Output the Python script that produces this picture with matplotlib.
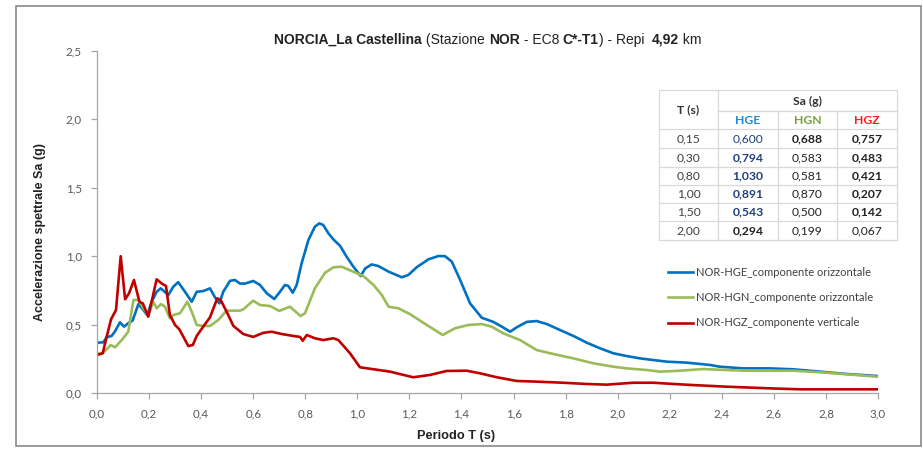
import matplotlib
matplotlib.use("Agg")
import matplotlib.pyplot as plt
from matplotlib.lines import Line2D
from matplotlib.patches import Rectangle

# ---------------- data ----------------
hge_T = [0.0, 0.024, 0.037, 0.056, 0.069, 0.088, 0.104, 0.12, 0.137, 0.159, 0.178, 0.193, 0.21, 0.229,
         0.245, 0.274, 0.293, 0.312, 0.338, 0.364, 0.383, 0.408, 0.434, 0.453, 0.47, 0.485, 0.511, 0.53,
         0.549, 0.569, 0.60, 0.626, 0.652, 0.681, 0.703, 0.722, 0.735, 0.752, 0.767, 0.786, 0.812, 0.837,
         0.854, 0.869, 0.889, 0.908, 0.934, 0.959, 0.985, 1.013, 1.03, 1.055, 1.081, 1.12, 1.171, 1.196,
         1.228, 1.273, 1.311, 1.337, 1.363, 1.395, 1.433, 1.478, 1.522, 1.555, 1.587, 1.612, 1.651, 1.689,
         1.728, 1.779, 1.83, 1.881, 1.932, 1.984, 2.035, 2.086, 2.137, 2.189, 2.265, 2.355, 2.393, 2.483,
         2.585, 2.675, 2.778, 2.88, 3.0]
hge_Sa = [0.368, 0.37, 0.407, 0.417, 0.45, 0.516, 0.485, 0.51, 0.53, 0.65, 0.607, 0.57, 0.667, 0.74,
          0.765, 0.716, 0.777, 0.81, 0.74, 0.667, 0.74, 0.745, 0.765, 0.70, 0.655, 0.74, 0.82, 0.826,
          0.80, 0.80, 0.819, 0.79, 0.729, 0.687, 0.74, 0.79, 0.782, 0.733, 0.79, 0.948, 1.118, 1.216,
          1.24, 1.228, 1.167, 1.123, 1.075, 0.996, 0.923, 0.855, 0.91, 0.94, 0.928, 0.887, 0.846, 0.863,
          0.919, 0.977, 1.001, 1.0, 0.96, 0.826, 0.655, 0.55, 0.52, 0.485, 0.448, 0.48, 0.52, 0.526,
          0.504, 0.46, 0.417, 0.368, 0.327, 0.29, 0.27, 0.253, 0.241, 0.229, 0.222, 0.205, 0.192, 0.18,
          0.18, 0.173, 0.156, 0.139, 0.124]

hgn_T = [0.0, 0.024, 0.053, 0.069, 0.095, 0.12, 0.14, 0.159, 0.178, 0.197, 0.216, 0.229, 0.246, 0.261,
         0.28, 0.293, 0.319, 0.347, 0.364, 0.383, 0.408, 0.434, 0.466, 0.498, 0.549, 0.562, 0.60, 0.626,
         0.665, 0.70, 0.741, 0.782, 0.799, 0.837, 0.876, 0.908, 0.94, 0.978, 1.023, 1.062, 1.094, 1.12,
         1.158, 1.202, 1.267, 1.328, 1.375, 1.426, 1.478, 1.516, 1.561, 1.625, 1.689, 1.753, 1.83, 1.907,
         1.984, 2.035, 2.112, 2.163, 2.24, 2.33, 2.483, 2.675, 2.803, 3.0]
hgn_Sa = [0.285, 0.295, 0.351, 0.334, 0.387, 0.448, 0.68, 0.68, 0.619, 0.57, 0.667, 0.619, 0.65, 0.631,
          0.546, 0.57, 0.583, 0.667, 0.594, 0.497, 0.49, 0.49, 0.534, 0.602, 0.602, 0.612, 0.675, 0.643,
          0.636, 0.60, 0.631, 0.563, 0.583, 0.765, 0.879, 0.919, 0.923, 0.892, 0.855, 0.79, 0.716, 0.631,
          0.619, 0.577, 0.497, 0.424, 0.473, 0.497, 0.504, 0.485, 0.436, 0.387, 0.314, 0.285, 0.253, 0.217,
          0.192, 0.18, 0.168, 0.156, 0.163, 0.175, 0.163, 0.163, 0.148, 0.119]

hgz_T = [0.0, 0.022, 0.037, 0.054, 0.073, 0.091, 0.108, 0.123, 0.142, 0.163, 0.176, 0.197, 0.229, 0.249,
         0.265, 0.28, 0.30, 0.316, 0.332, 0.351, 0.368, 0.383, 0.408, 0.434, 0.462, 0.475, 0.498, 0.524,
         0.562, 0.60, 0.639, 0.671, 0.71, 0.754, 0.78, 0.79, 0.806, 0.837, 0.869, 0.908, 0.927, 0.972,
         1.01, 1.126, 1.151, 1.215, 1.279, 1.343, 1.42, 1.471, 1.536, 1.612, 1.689, 1.791, 1.881, 1.958,
         2.06, 2.137, 2.214, 2.29, 2.42, 2.585, 2.70, 3.0]
hgz_Sa = [0.278, 0.29, 0.41, 0.539, 0.607, 1.0, 0.685, 0.729, 0.826, 0.667, 0.655, 0.558, 0.831, 0.80,
          0.782, 0.57, 0.497, 0.466, 0.41, 0.343, 0.351, 0.417, 0.485, 0.553, 0.692, 0.68, 0.594, 0.49,
          0.431, 0.41, 0.44, 0.448, 0.431, 0.417, 0.41, 0.382, 0.424, 0.40, 0.387, 0.40, 0.387, 0.29,
          0.188, 0.156, 0.144, 0.115, 0.132, 0.161, 0.163, 0.144, 0.115, 0.088, 0.083, 0.075, 0.066, 0.061,
          0.075, 0.075, 0.066, 0.058, 0.046, 0.034, 0.027, 0.027]

series_labels = ["NOR-HGE_componente orizzontale",
                 "NOR-HGN_componente orizzontale",
                 "NOR-HGZ_componente verticale"]

x_ticks = [0.0, 0.2, 0.4, 0.6, 0.8, 1.0, 1.2, 1.4, 1.6, 1.8, 2.0, 2.2, 2.4, 2.6, 2.8, 3.0]
x_tick_labels = ["0,0", "0,2", "0,4", "0,6", "0,8", "1,0", "1,2", "1,4", "1,6", "1,8",
                 "2,0", "2,2", "2,4", "2,6", "2,8", "3,0"]
y_ticks = [0.0, 0.5, 1.0, 1.5, 2.0, 2.5]
y_tick_labels = ["0,0", "0,5", "1,0", "1,5", "2,0", "2,5"]

table_T = ["0,15", "0,30", "0,80", "1,00", "1,50", "2,00"]
table_hge = ["0,600", "0,794", "1,030", "0,891", "0,543", "0,294"]
table_hgn = ["0,688", "0,583", "0,581", "0,870", "0,500", "0,199"]
table_hgz = ["0,757", "0,483", "0,421", "0,207", "0,142", "0,067"]
table_hge_bold = [False, True, True, True, True, True]
table_hgn_bold = [True, False, False, False, False, False]
table_hgz_bold = [True, True, True, True, True, False]
table_hge_color = ["#1F3F7A", "#1F3F7A", "#1F3F7A", "#1F3F7A", "#1F3F7A", "#222222"]

title_parts = [("NORCIA_La Castellina", True), (" (Stazione ", False), ("NOR", True),
               (" - EC8 ", False), ("C*-T1", True), (") - Repi  ", False), ("4,92", True), (" km", False)]

# ---------------- figure ----------------
W, H = 923, 451
fig = plt.figure(figsize=(W / 100, H / 100), dpi=100)
fig.patch.set_facecolor("white")


def fx(px):
    return px / W


def fy(py):
    return 1 - py / H


CAL = ["Lato", "DejaVu Sans"]
ARI = ["Liberation Sans", "DejaVu Sans"]

# outer frame
fig.add_artist(Rectangle((fx(16), fy(446)), fx(921) - fx(16), fy(6) - fy(446),
                         transform=fig.transFigure, fill=False, edgecolor="#8a8a8a", lw=1.2))

ax_l, ax_r, ax_t, ax_b = 97, 878, 51, 393
ax = fig.add_axes([fx(ax_l), fy(ax_b), fx(ax_r) - fx(ax_l), fy(ax_t) - fy(ax_b)])
c_blue, c_green, c_red = "#0070C0", "#9BBB59", "#C00000"
ax.plot(hge_T, hge_Sa, color=c_blue, lw=1.9, label=series_labels[0], solid_joinstyle="round")
ax.plot(hgn_T, hgn_Sa, color=c_green, lw=1.9, label=series_labels[1], solid_joinstyle="round")
ax.plot(hgz_T, hgz_Sa, color=c_red, lw=1.9, label=series_labels[2], solid_joinstyle="round")
ax.set_xlim(0, 3.0)
ax.set_ylim(0, 2.5)
ax.set_xticks(x_ticks)
ax.set_xticklabels(x_tick_labels, fontfamily=CAL, fontsize=8.3, color="#595959")
ax.set_yticks(y_ticks)
ax.set_yticklabels(y_tick_labels, fontfamily=CAL, fontsize=8.3, color="#595959")
for s in ["top", "right"]:
    ax.spines[s].set_visible(False)
for s in ["left", "bottom"]:
    ax.spines[s].set_color("#a6a6a6")
    ax.spines[s].set_linewidth(0.9)
ax.tick_params(direction="out", length=4, width=0.9, color="#a6a6a6", pad=7)
ax.set_facecolor("white")

leg = ax.legend(loc="upper left", bbox_to_anchor=(fx(668), fy(266.5)), bbox_transform=fig.transFigure,
                frameon=False, prop={"family": CAL, "size": 8.0}, handlelength=2.25,
                handletextpad=0.27, labelspacing=1.3, borderpad=0, borderaxespad=0)
for t in leg.get_texts():
    t.set_color("#404040")

# axis labels
fig.text(fx(40), fy(232), "Accelerazione spettrale Sa (g)", rotation=90, ha="center", va="center",
         fontfamily=ARI, fontweight="bold", fontsize=9, color="#222222")
fig.text(fx(456), fy(436), "Periodo T (s)", ha="center", va="center",
         fontfamily=ARI, fontweight="bold", fontsize=9.2, color="#222222")

# title (mixed bold)
renderer = fig.canvas.get_renderer()
pieces = []
for txt, b in title_parts:
    t = fig.text(0, fy(40), txt, ha="left", va="center", fontfamily=ARI, fontsize=10,
                 fontweight="bold" if b else "normal", color="#222222")
    pieces.append(t)
widths = [p.get_window_extent(renderer).width for p in pieces]
total = sum(widths)
x0 = 488 - total / 2
for p, w in zip(pieces, widths):
    p.set_x(fx(x0))
    x0 += w

# table
tl, tr, tt, tb = 659, 897, 90, 240
row_y = [129, 148.3, 166.7, 184.6, 202.8, 221.2, 240]
gc = "#d9d9d9"


def hline(x1, x2, y):
    fig.add_artist(Line2D([fx(x1), fx(x2)], [fy(y), fy(y)], transform=fig.transFigure, color=gc, lw=0.9))


def vline(x, y1, y2):
    fig.add_artist(Line2D([fx(x), fx(x)], [fy(y1), fy(y2)], transform=fig.transFigure, color=gc, lw=0.9))


fig.add_artist(Rectangle((fx(tl), fy(tb)), fx(tr) - fx(tl), fy(tt) - fy(tb), transform=fig.transFigure,
                         facecolor="white", edgecolor=gc, lw=0.9))
hline(718, 897, 111)
for y in row_y[:-1]:
    hline(659, 897, y)
vline(718, 90, 240)
vline(778, 111, 240)
vline(837, 111, 240)

TS = 8.7


def cell(x, y, s, bold=False, color="#333333"):
    fig.text(fx(x), fy(y), s, ha="center", va="center", fontfamily=CAL, fontsize=TS,
             fontweight="bold" if bold else "normal", color=color)


cell((659 + 718) / 2, 110, "T (s)", True, "#333333")
cell((718 + 897) / 2, 101, "Sa (g)", True, "#333333")
cell((718 + 778) / 2, 120.5, "HGE", True, "#1E88D8")
cell((778 + 837) / 2, 120.5, "HGN", True, "#77A03A")
cell((837 + 897) / 2, 120.5, "HGZ", True, "#FF1A1A")
for i in range(len(table_T)):
    yc = (row_y[i] + row_y[i + 1]) / 2
    cell((659 + 718) / 2, yc, table_T[i], False, "#404040")
    cell((718 + 778) / 2, yc, table_hge[i], table_hge_bold[i], table_hge_color[i])
    cell((778 + 837) / 2, yc, table_hgn[i], table_hgn_bold[i], "#222222")
    cell((837 + 897) / 2, yc, table_hgz[i], table_hgz_bold[i], "#222222")

fig.savefig("out.png", dpi=100, facecolor="white")
